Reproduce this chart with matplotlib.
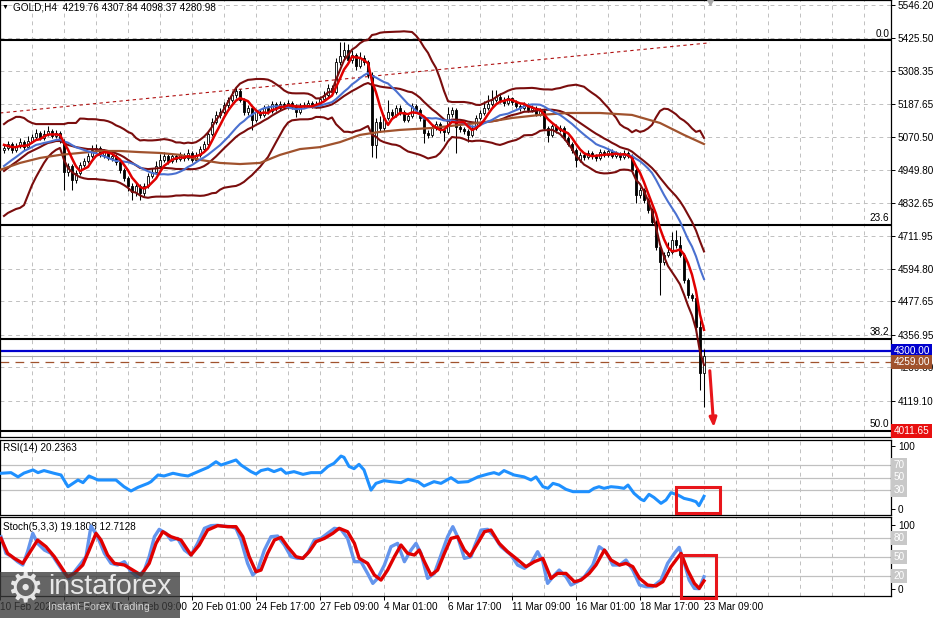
import numpy as np
import pandas as pd
import matplotlib
matplotlib.use("Agg")
import matplotlib.pyplot as plt
from matplotlib.patches import Rectangle
from matplotlib.ticker import FixedLocator
from matplotlib.transforms import blended_transform_factory

plt.rcParams['font.family'] = ['Liberation Sans', 'DejaVu Sans']
plt.rcParams['font.size'] = 7

# GOLD H4 candles (bar 1 .. 176)
opens = [5024, 5031, 5045, 5024, 5038, 5052, 5034, 5056, 5071, 5085,
         5067, 5081, 5092, 5074, 5085, 5056, 4944, 4966, 4916, 4941,
         4970, 4984, 5002, 5024, 5031, 5006, 5016, 4995, 5002, 4980,
         4952, 4923, 4894, 4872, 4894, 4869, 4894, 4930, 4944, 4966,
         4988, 5002, 4984, 5002, 4991, 5006, 4995, 5013, 4988, 5006,
         5027, 5045, 5081, 5125, 5150, 5161, 5186, 5204, 5222, 5236,
         5204, 5161, 5175, 5132, 5161, 5150, 5175, 5164, 5189, 5175,
         5189, 5179, 5193, 5182, 5161, 5182, 5186, 5193, 5182, 5189,
         5207, 5222, 5247, 5233, 5341, 5362, 5384, 5348, 5366, 5326,
         5355, 5341, 5294, 5042, 5125, 5103, 5139, 5161, 5150, 5175,
         5161, 5132, 5146, 5182, 5168, 5139, 5085, 5078, 5103, 5117,
         5096, 5089, 5153, 5168, 5107, 5099, 5092, 5078, 5103, 5139,
         5157, 5175, 5189, 5204, 5215, 5204, 5193, 5211, 5197, 5182,
         5175, 5186, 5168, 5175, 5153, 5164, 5103, 5078, 5110, 5096,
         5103, 5067, 5045, 5024, 4988, 5006, 4998, 5013, 5002, 4995,
         5016, 5006, 5020, 5002, 5009, 4998, 5013, 5002, 4952, 4861,
         4879, 4843, 4807, 4764, 4674, 4620, 4645, 4656, 4699, 4681,
         4645, 4555, 4501, 4490, 4386, 4219.76]
highs = [5045, 5056, 5052, 5049, 5067, 5060, 5074, 5081, 5099, 5092,
         5096, 5110, 5099, 5096, 5092, 5063, 4977, 4973, 4952, 4980,
         4995, 5013, 5042, 5045, 5038, 5027, 5024, 5013, 5009, 4988,
         4959, 4930, 4905, 4905, 4902, 4905, 4941, 4959, 4984, 5009,
         5016, 5009, 5013, 5009, 5016, 5013, 5027, 5020, 5016, 5038,
         5056, 5092, 5139, 5164, 5175, 5197, 5215, 5236, 5251, 5244,
         5211, 5186, 5182, 5168, 5171, 5186, 5186, 5200, 5197, 5200,
         5197, 5204, 5200, 5189, 5193, 5197, 5204, 5200, 5200, 5218,
         5236, 5262, 5258, 5355, 5413, 5413, 5406, 5384, 5373, 5377,
         5366, 5348, 5305, 5139, 5146, 5150, 5204, 5171, 5186, 5186,
         5168, 5157, 5193, 5189, 5175, 5146, 5096, 5114, 5128, 5125,
         5103, 5179, 5179, 5175, 5117, 5107, 5099, 5114, 5150, 5168,
         5200, 5222, 5240, 5240, 5229, 5215, 5222, 5215, 5204, 5189,
         5197, 5193, 5186, 5182, 5175, 5171, 5110, 5117, 5117, 5114,
         5110, 5074, 5052, 5031, 5016, 5013, 5024, 5020, 5009, 5027,
         5024, 5031, 5027, 5020, 5016, 5024, 5020, 5009, 4959, 4890,
         4887, 4850, 4814, 4771, 4681, 4656, 4692, 4728, 4735, 4714,
         4652, 4562, 4508, 4497, 4411, 4307.84]
lows = [5013, 5024, 5013, 5016, 5031, 5024, 5031, 5049, 5063, 5060,
        5060, 5074, 5067, 5067, 5049, 4879, 4930, 4879, 4905, 4934,
        4962, 4977, 4995, 5013, 4998, 4995, 4988, 4984, 4970, 4941,
        4912, 4876, 4843, 4858, 4843, 4858, 4887, 4923, 4937, 4959,
        4980, 4973, 4977, 4980, 4984, 4984, 4988, 4980, 4980, 4998,
        5020, 5038, 5074, 5117, 5139, 5153, 5175, 5197, 5211, 5197,
        5150, 5150, 5096, 5125, 5139, 5143, 5153, 5157, 5164, 5168,
        5171, 5171, 5171, 5143, 5153, 5175, 5179, 5175, 5175, 5182,
        5200, 5215, 5222, 5226, 5330, 5351, 5337, 5337, 5312, 5319,
        5330, 5283, 4998, 4995, 5089, 5092, 5132, 5139, 5143, 5150,
        5125, 5125, 5139, 5157, 5128, 5049, 5067, 5071, 5096, 5085,
        5056, 5081, 5143, 5013, 5089, 5081, 5052, 5071, 5096, 5132,
        5150, 5168, 5182, 5197, 5193, 5182, 5186, 5186, 5175, 5164,
        5168, 5161, 5161, 5146, 5146, 5096, 5052, 5071, 5085, 5089,
        5060, 5038, 5013, 4962, 4980, 4988, 4991, 4991, 4984, 4988,
        4998, 4998, 4995, 4995, 4988, 4991, 4995, 4944, 4832, 4850,
        4832, 4796, 4753, 4663, 4501, 4609, 4638, 4649, 4670, 4638,
        4544, 4490, 4479, 4372, 4159, 4098.37]
closes = [5031, 5045, 5024, 5038, 5052, 5034, 5056, 5071, 5085, 5067,
          5081, 5092, 5074, 5085, 5056, 4944, 4966, 4916, 4941, 4970,
          4984, 5002, 5024, 5031, 5006, 5016, 4995, 5002, 4980, 4952,
          4923, 4894, 4872, 4894, 4869, 4894, 4930, 4944, 4966, 4988,
          5002, 4984, 5002, 4991, 5006, 4995, 5013, 4988, 5006, 5027,
          5045, 5081, 5125, 5150, 5161, 5186, 5204, 5222, 5236, 5204,
          5161, 5175, 5132, 5161, 5150, 5175, 5164, 5189, 5175, 5189,
          5179, 5193, 5182, 5161, 5182, 5186, 5193, 5182, 5189, 5207,
          5222, 5247, 5233, 5341, 5362, 5384, 5348, 5366, 5326, 5355,
          5341, 5294, 5042, 5125, 5103, 5139, 5161, 5150, 5175, 5161,
          5132, 5146, 5182, 5168, 5139, 5085, 5078, 5103, 5117, 5096,
          5089, 5153, 5168, 5107, 5099, 5092, 5078, 5103, 5139, 5157,
          5175, 5189, 5204, 5215, 5204, 5193, 5211, 5197, 5182, 5175,
          5186, 5168, 5175, 5153, 5164, 5103, 5078, 5110, 5096, 5103,
          5067, 5045, 5024, 4988, 5006, 4998, 5013, 5002, 4995, 5016,
          5006, 5020, 5002, 5009, 4998, 5013, 5002, 4952, 4861, 4879,
          4843, 4807, 4764, 4674, 4620, 4645, 4656, 4699, 4681, 4645,
          4555, 4501, 4490, 4386, 4220, 4280.98]

# indicator values (before the rolling windows fill)
red_head = [5042, 5038, 5034, 5034]
blue_head = [4966, 4977, 4988, 4998, 5009, 5020, 5027, 5034, 5042, 5045, 5049, 5052, 5056]
bb_up_head = [5117, 5128, 5135, 5143, 5143, 5139, 5128, 5121, 5117, 5117,
              5117, 5117, 5117, 5117, 5117, 5117, 5121, 5121, 5121]
bb_mid_head = [4948, 4959, 4970, 4980, 4991, 5002, 5013, 5020, 5027, 5034,
               5042, 5049, 5052, 5056, 5056, 5049, 5042, 5038, 5034]
bb_low_head = [4786, 4797, 4804, 4811, 4815, 4825, 4861, 4897, 4926, 4952,
               4977, 4998, 5013, 5024, 5031, 4988, 4959, 4944, 4934]

# slow moving average (brown)
brown_bars = [0, 5, 10, 15, 20, 25, 30, 35, 40, 45, 50, 55, 60, 65, 70, 75,
              80, 85, 90, 95, 100, 108, 115, 122, 128, 135, 142, 150, 158, 165, 171, 176]
brown_vals = [4952, 4977, 4995, 5006, 5013, 5020, 5020, 5016, 5013, 5006, 4988, 4977,
              4973, 4977, 5006, 5027, 5034, 5052, 5078, 5089, 5096, 5103, 5114, 5125,
              5139, 5150, 5157, 5157, 5150, 5121, 5078, 5045]

trend_bars = [0, 177.5]
trend_vals = [5157, 5410]

fib_levels = [5419.3, 4754.9, 4343.9, 4011.65]
fib_names = ['0.0', '23.6', '38.2', '50.0']

price_ticks = [5546.20, 5425.50, 5308.35, 5187.65, 5070.50, 4949.80, 4832.65,
               4711.95, 4594.80, 4477.65, 4356.95, 4239.80, 4119.10]

rsi_bars = [0.25, 2.75, 4.5, 6, 8.25, 9.5, 11, 13.5, 15.25, 17,
            18.25, 19.5, 20.75, 22.25, 24.5, 27, 29, 31, 32.75, 34.5,
            37, 37.75, 39.5, 41, 43.25, 45.25, 47, 49.5, 52, 54,
            55.25, 57.25, 59, 60.25, 62.75, 64, 65.25, 67, 68.5, 70.25,
            71.5, 73.5, 75.75, 77.75, 80.25, 82, 83.5, 85.25, 86, 87.25,
            88.5, 89.75, 91, 92.75, 94, 96, 97.75, 100.25, 102, 104.5,
            106, 108.5, 110.25, 112.75, 114.5, 117, 119.5, 122, 123.5, 124.75,
            126, 128.5, 131, 132.75, 134, 135.75, 137, 138.25, 139.75, 141.5,
            143.25, 145.25, 147.25, 148.5, 149.75, 151, 152.75, 154.5, 156, 157,
            158.5, 160.25, 161, 162.25, 163.5, 165.25, 166.5, 167.75, 169.5, 171,
            172.75, 174, 174.75, 176]
rsi_vals = [56.7, 57.7, 51, 57, 62, 57.7, 61, 56.7, 54, 35.4,
            40.7, 46, 41.8, 52.4, 46, 46, 46, 35.4, 28.6, 34.4,
            40.7, 43.4, 54, 52.4, 56.7, 54, 52.4, 59.3, 66.1, 75,
            69.8, 74, 77.8, 69.8, 59.3, 55.5, 61, 63.5, 59.3, 63.5,
            56.7, 59.3, 55, 57.7, 57.7, 67.6, 72.5, 84, 82, 67.6,
            64, 70.9, 62, 30, 40.7, 45, 43.4, 41.8, 47.1, 43.4,
            36.5, 43.4, 40.7, 49.7, 42.3, 43.4, 51, 55.5, 57.7, 55,
            61, 54, 51, 46, 51, 35.4, 32.8, 40.7, 38, 31.2,
            27.5, 27.5, 27.5, 32.8, 35.4, 32.8, 35.4, 34.4, 32.8, 38,
            24.9, 15.3, 13.2, 23.3, 18.3, 9.0, 14.3, 25.9, 22.2, 16.9,
            14.3, 11.6, 5.3, 20.24]

stoch_k_bars = [0.25, 1.5, 2.75, 4.4, 5.7, 6.9, 8.2, 9.4, 11.1, 12.75,
                14.4, 16.1, 17.3, 18.6, 20.25, 21.5, 22.75, 24.4, 26.1, 27.75,
                29.4, 31.1, 32.75, 34.4, 36.1, 37.3, 38.6, 39.8, 41.5, 42.75,
                44.4, 46.1, 47.75, 49.4, 51.1, 52.75, 54.4, 56.1, 57.75, 59,
                60.25, 61.9, 63.2, 64.4, 66.1, 67.75, 69.4, 71.1, 72.75, 74.4,
                75.7, 76.9, 78.6, 80.25, 81.9, 83.6, 85.25, 86.9, 88.6, 90.25,
                91.9, 93.2, 94.4, 96.1, 97.75, 99.4, 101.1, 102.75, 104, 105.25,
                106.9, 108.6, 110.25, 111.9, 113.2, 114.4, 116.1, 117.75, 118.6, 120.25,
                121.9, 123.6, 125.25, 127.75, 129.4, 131.1, 132.75, 134.4, 135.7, 136.9,
                138.6, 139.8, 141.5, 142.75, 144.4, 146.1, 148.2, 149.8, 151.5, 153.2,
                154.9, 156.5, 158.2, 159.9, 161.5, 163.2, 165.25, 166.9, 168.6, 169.8,
                171.1, 172.3, 173.6, 174.8, 176]
stoch_k = [81.7, 55.7, 51.5, 42.7, 37.5, 58.3, 87.0, 71.3, 60.9, 55.7,
           40.1, 24.4, 16.6, 27.0, 40.1, 50.5, 98.4, 81.7, 55.7, 40.1,
           37.5, 42.7, 27.0, 19.2, 29.6, 50.5, 81.7, 93.2, 87.0, 76.5,
           79.1, 60.9, 53.1, 71.3, 94.8, 99, 99.5, 98, 97.4, 94.8,
           76.5, 40.1, 21.8, 29.6, 60.9, 81.7, 82.8, 68.7, 50.5, 47.9,
           47.9, 55.7, 76.5, 79.1, 87.0, 94.8, 93.2, 79.1, 42.7, 42.7,
           24.4, 8.8, 16.6, 37.5, 66.1, 71.3, 42.7, 60.9, 71.3, 55.7,
           16.6, 24.4, 53.1, 81.7, 97.4, 81.7, 47.9, 50.5, 66.1, 92.1,
           93.2, 81.7, 66.1, 53.1, 37.5, 32.3, 40.1, 58.3, 42.7, 8.8,
           21.8, 29.6, 19.2, 6.2, 11.4, 19.2, 37.5, 66.1, 58.3, 37.5,
           37.5, 45.3, 29.6, 6.2, 3.6, 3.6, 14.0, 40.1, 55.7, 65.1,
           40.1, 14.0, 1.0, 0.5, 19.18]
stoch_d_bars = [0.25, 1.9, 3.6, 5.7, 7.3, 9.4, 11.5, 13.6, 15.25, 16.9,
                18.6, 20.7, 22.3, 24, 25.25, 26.9, 28.6, 31.1, 33.2, 35.25,
                37.3, 39, 40.7, 42.75, 45.25, 47.75, 49.8, 51.9, 54.4, 56.9,
                59, 60.7, 62.3, 64, 65.25, 66.9, 68.6, 70.25, 71.9, 74,
                75.7, 77.3, 79, 81.1, 83.2, 84.8, 86.9, 88.6, 89.8, 91.9,
                93.6, 95.25, 96.9, 98.6, 100.25, 101.9, 103.6, 104.8, 106.1, 107.75,
                109.4, 111.1, 112.75, 114.4, 116.1, 117.5, 119.4, 121.1, 122.75, 124.8,
                126.9, 129, 131.5, 133.6, 135.7, 137.75, 139.4, 141.5, 143.6, 145.25,
                147.3, 149, 151.1, 152.75, 154.9, 156.5, 158.2, 159.9, 161.9, 164,
                165.7, 167.75, 170.25, 171.9, 173.6, 174.8, 176]
stoch_d = [79.1, 55.7, 47.9, 40.1, 55.7, 76.5, 66.1, 50.5, 34.9, 19.2,
           24.4, 37.5, 60.9, 87.0, 76.5, 53.1, 40.1, 37.5, 29.6, 21.8,
           40.1, 71.3, 89.5, 81.7, 76.5, 53.1, 68.7, 92.1, 99, 97.4,
           97.4, 81.7, 50.5, 27.0, 29.6, 55.7, 76.5, 80.7, 66.1, 50.5,
           47.9, 58.3, 73.9, 79.1, 87.0, 94.8, 89.5, 71.3, 47.9, 40.1,
           21.8, 14.0, 29.6, 50.5, 68.7, 55.7, 53.1, 60.9, 42.7, 21.8,
           29.6, 55.7, 79.1, 81.7, 60.9, 51.5, 71.3, 89.5, 92.1, 71.3,
           58.3, 47.9, 34.9, 42.7, 47.9, 16.6, 24.4, 24.4, 11.4, 14.0,
           24.4, 37.5, 60.9, 45.3, 37.5, 40.1, 34.9, 16.6, 6.2, 4.7,
           11.4, 34.9, 55.7, 29.6, 8.8, 1.0, 12.71]

time_labels = ['10 Feb 2026', '12 Feb 17:00', '17 Feb 09:00', '20 Feb 01:00',
               '24 Feb 17:00', '27 Feb 09:00', '4 Mar 01:00', '6 Mar 17:00',
               '11 Mar 09:00', '16 Mar 01:00', '18 Mar 17:00', '23 Mar 09:00']

# ---------------- indicators ----------------
cs = pd.Series(closes, dtype=float)
red_ma = cs.rolling(5).mean().to_numpy()
red_ma[:4] = red_head
blue_ma = cs.rolling(14).mean().to_numpy()
blue_ma[:13] = blue_head
mid = cs.rolling(20).mean()
sd = cs.rolling(20).std(ddof=0)
bb_up = (mid + 2 * sd).to_numpy()
bb_mid = mid.to_numpy()
bb_low = (mid - 2 * sd).to_numpy()
bb_up[:19] = bb_up_head
bb_mid[:19] = bb_mid_head
bb_low[:19] = bb_low_head

bars = np.arange(1, len(closes) + 1)

# ---------------- layout ----------------
W, H = 938, 618
fig = plt.figure(figsize=(W / 100, H / 100), dpi=100)
fig.patch.set_facecolor('white')


def panel(top, bottom, right=891):
    return [0, 1 - bottom / H, right / W, (bottom - top) / H]


ax = fig.add_axes(panel(0, 437))
ax_rsi = fig.add_axes(panel(440, 515))
ax_st = fig.add_axes(panel(517, 596))

GRID = '#c0c0c0'
for a in (ax, ax_rsi, ax_st):
    a.set_xlim(0, 222.75)
    a.xaxis.set_major_locator(FixedLocator(np.arange(0, 177, 16)))
    a.xaxis.set_minor_locator(FixedLocator(np.arange(8, 223, 8)))
    a.grid(True, axis='x', which='both', color=GRID, linestyle=(0, (4, 4)), linewidth=0.7)
    a.tick_params(axis='x', which='both', length=0, labelbottom=False)
    a.yaxis.tick_right()
    a.tick_params(axis='y', direction='out', length=3, width=0.7, pad=2,
                  labelsize=7.2, left=False)
    for s in a.spines.values():
        s.set_linewidth(0.9)
    a.set_axisbelow(True)


def side_box(a, val, text, fc, tc='white'):
    a.text(1.003, val, text, transform=blended_transform_factory(a.transAxes, a.transData),
           ha='left', va='center', fontsize=7.2, color=tc, zorder=10, clip_on=False,
           bbox=dict(boxstyle='square,pad=0.22', fc=fc, ec='none'))


# ---------------- price panel ----------------
ax.set_ylim(3989.3, 5564.2)
ax.set_yticks(price_ticks)
ax.set_yticklabels([f'{p:.2f}' for p in price_ticks])
ax.grid(True, axis='y', color=GRID, linestyle=(0, (4, 4)), linewidth=0.7)

ax.plot(trend_bars, trend_vals, color='#b01010', lw=0.8, linestyle=(0, (3, 3)), zorder=2)
for lvl, name in zip(fib_levels, fib_names):
    ax.axhline(lvl, color='black', lw=1.5, zorder=2)
    ax.text(222.3, lvl + 5, name, ha='right', va='bottom', fontsize=7.2, zorder=3)

ax.axhline(4280.98, color='#a8a8a8', lw=0.8, zorder=2)
ax.axhline(4300, color='#0000cd', lw=1.6, zorder=2)
ax.axhline(4259, color='#a0522d', lw=0.9, linestyle=(0, (7, 5)), zorder=2)

ax.vlines(bars, lows, highs, color='black', linewidth=0.75, zorder=3)
for x, op, cl in zip(bars, opens, closes):
    ax.add_patch(Rectangle((x - 0.36, min(op, cl)), 0.72, max(abs(cl - op), 2.0),
                           facecolor='white' if cl >= op else 'black',
                           edgecolor='black', linewidth=0.6, zorder=4))

for band in (bb_up, bb_mid, bb_low):
    ax.plot(bars, band, color='#7a0d0d', lw=1.5, zorder=5)
ax.plot(brown_bars, brown_vals, color='#a0522d', lw=1.6, zorder=5)
ax.plot(bars, blue_ma, color='#4a70d0', lw=1.5, zorder=6)
ax.plot(bars, red_ma, color='#e00000', lw=1.8, zorder=7)

ax.annotate('', xy=(178.5, 4014), xytext=(177.4, 4238),
            arrowprops=dict(arrowstyle='-|>,head_width=0.3,head_length=0.75',
                            color='#e8161b', lw=2.2), zorder=9)
ax.plot([177.5], [5564.2], marker='v', color='#a8a8a8', ms=7, zorder=9)

side_box(ax, 4300, '4300.00', '#0000cd')
side_box(ax, 4259, '4259.00', '#a0522d')
side_box(ax, 4011.65, '4011.65', '#e81010')

ax.text(2 / 891, 0.982, '▼', transform=ax.transAxes, fontsize=5, va='center', ha='left')
ax.text(13 / 891, 0.982, 'GOLD,H4  4219.76 4307.84 4098.37 4280.98',
        transform=ax.transAxes, fontsize=7.2, va='center', ha='left')

# ---------------- RSI panel ----------------
ax_rsi.set_ylim(-9.5, 109.5)
ax_rsi.set_yticks([100, 0])
ax_rsi.set_yticklabels(['100', '0'])
for lvl in (70, 50, 30):
    ax_rsi.axhline(lvl, color=GRID, lw=0.9, zorder=1)
    side_box(ax_rsi, lvl, str(lvl), '#c8c8c8')
ax_rsi.plot(rsi_bars, rsi_vals, color='#1e90ff', lw=2.2, zorder=5)
ax_rsi.text(3 / 891, 1 - 8 / 75, 'RSI(14) 20.2363', transform=ax_rsi.transAxes,
            va='center', ha='left', fontsize=7.2)
ax_rsi.add_patch(Rectangle((169, -6.3), 11, 41.2, fill=False, edgecolor='#e8161b',
                           lw=2.2, zorder=8, clip_on=False))

# ---------------- Stochastic panel ----------------
ax_st.set_ylim(-10.9, 112.5)
ax_st.set_yticks([100, 0])
ax_st.set_yticklabels(['100', '0'])
for lvl in (80, 50, 20):
    ax_st.axhline(lvl, color=GRID, lw=0.9, zorder=1)
    side_box(ax_st, lvl, str(lvl), '#c8c8c8')
ax_st.plot(stoch_k_bars, stoch_k, color='#6495ed', lw=2.4, zorder=5)
ax_st.plot(stoch_d_bars, stoch_d, color='#e00000', lw=2.4, zorder=6)
ax_st.text(3 / 891, 1 - 10 / 79, 'Stoch(5,3,3) 19.1808 12.7128', transform=ax_st.transAxes,
           va='center', ha='left', fontsize=7.2)
ax_st.add_patch(Rectangle((170.25, -14), 8.75, 67, fill=False, edgecolor='#e8161b',
                          lw=2.2, zorder=8, clip_on=False))

ax_st.tick_params(axis='x', which='major', length=3, width=0.7, direction='out',
                  labelbottom=True, labelsize=7.2, pad=1)
ax_st.set_xticklabels(time_labels, ha='left')

# ---------------- watermark ----------------
fig.patches.append(Rectangle((0, 0), 180 / W, 46 / H, transform=fig.transFigure,
                             facecolor='#3a3a3a', alpha=0.78, edgecolor='none'))
fig.text(25 / W, 1 - 590 / H, '⚙', fontsize=30, color='white', alpha=0.85,
         ha='center', va='center', family=['DejaVu Sans'])
fig.text(48 / W, 1 - 587 / H, 'instaforex', fontsize=20.5, color='white', alpha=0.85,
         ha='left', va='center')
fig.text(48 / W, 1 - 607 / H, 'Instant Forex Trading', fontsize=7.7, color='#e6e6e6',
         alpha=0.85, ha='left', va='center')

fig.savefig('out.png', dpi=100)
